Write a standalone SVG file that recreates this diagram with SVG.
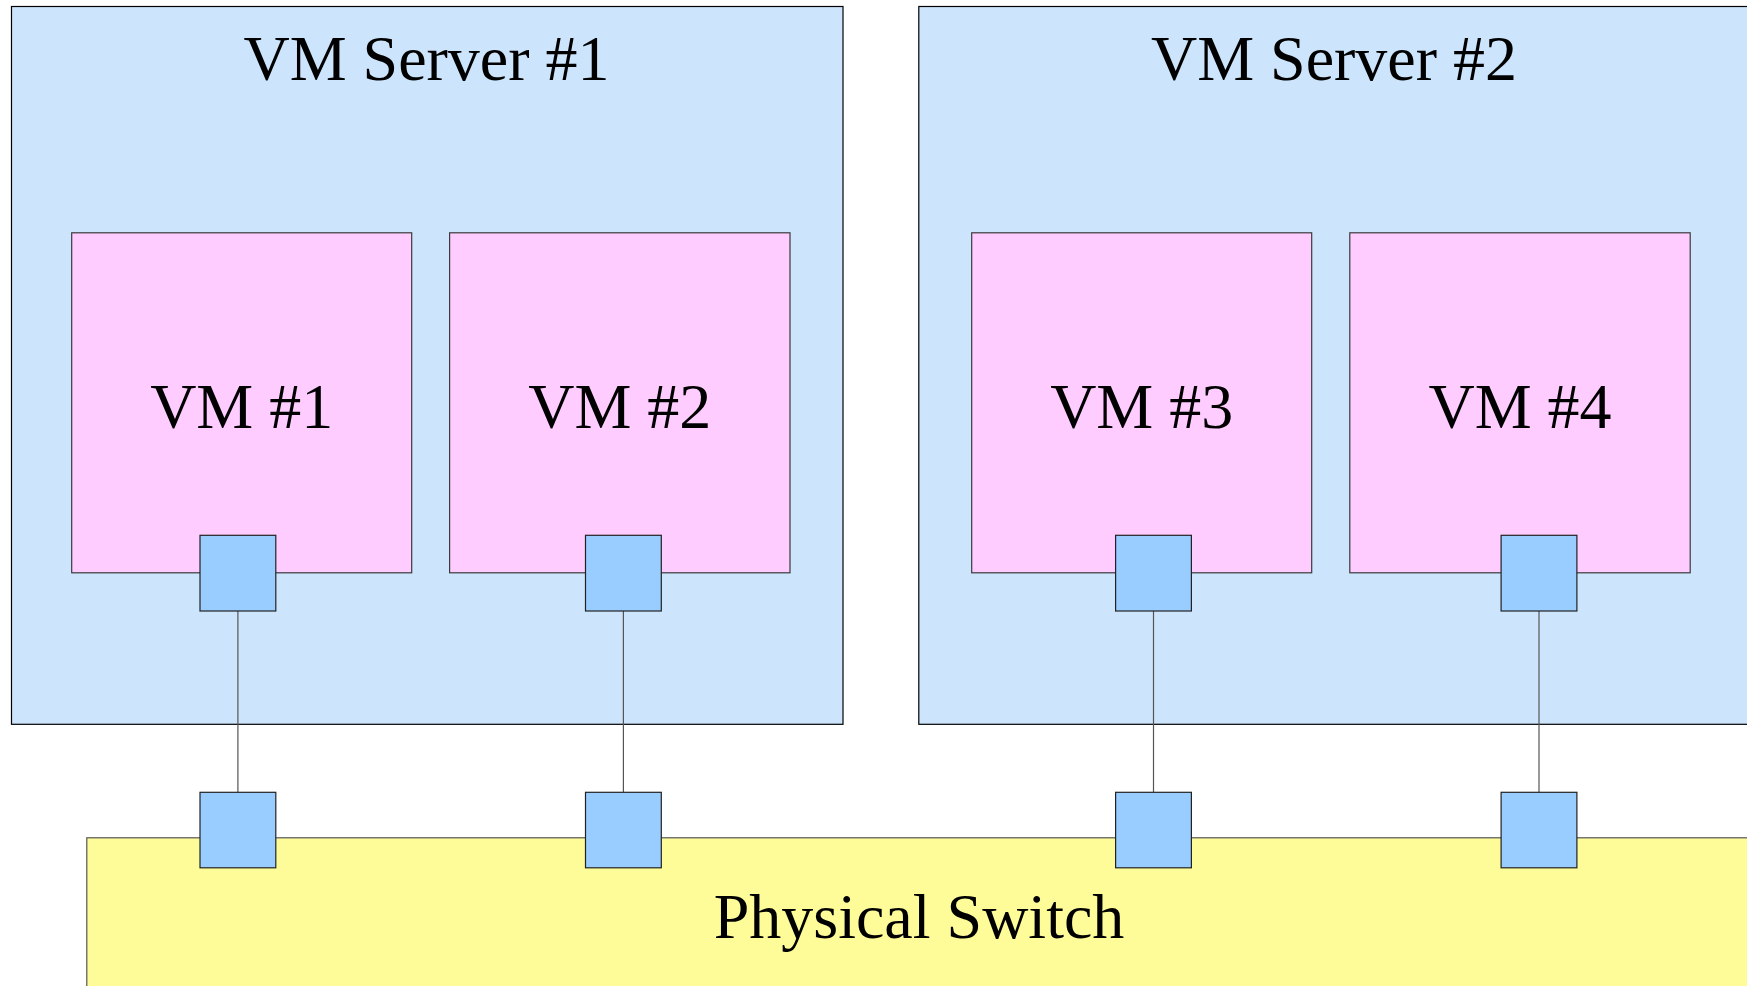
<svg xmlns="http://www.w3.org/2000/svg" width="1747" height="986" viewBox="0 0 1747 986">
<style>
.server{fill:#cce5fc;stroke:#000;stroke-width:1.2}
.vm{fill:#ffccff;stroke:#3a3a3a;stroke-width:1.2}
.switch{fill:#fdfc99;stroke:#555;stroke-width:1.2}
.port{fill:#99ccff;stroke:#222;stroke-width:1.2}
.wire{stroke:#555;stroke-width:1.2;fill:none}
text{font-family:"Liberation Serif","Times New Roman",serif;font-size:64px;fill:#000;text-anchor:middle}
</style>
<rect width="1747" height="986" fill="#fff"/>
<g id="server1">
<rect class="server" x="11.5" y="6.5" width="831.5" height="717.8"/>
<text x="426.5" y="80">VM Server #1</text>
</g>
<g id="server2">
<rect class="server" x="918.8" y="6.5" width="860" height="717.8"/>
<text x="1334" y="80">VM Server #2</text>
</g>
<g id="vm1">
<rect class="vm" x="71.7" y="232.8" width="340" height="340"/>
<text x="241.7" y="428.3">VM #1</text>
</g>
<g id="vm2">
<rect class="vm" x="449.6" y="232.8" width="340.4" height="340"/>
<text x="619.8" y="428.3">VM #2</text>
</g>
<g id="vm3">
<rect class="vm" x="971.7" y="232.8" width="340" height="340"/>
<text x="1141.7" y="428.3">VM #3</text>
</g>
<g id="vm4">
<rect class="vm" x="1349.8" y="232.8" width="340.4" height="340"/>
<text x="1520" y="428.3">VM #4</text>
</g>
<g id="switch">
<rect class="switch" x="86.8" y="837.8" width="1700" height="200"/>
<text x="919" y="938.3">Physical Switch</text>
</g>
<g id="connectors">
<line class="wire" x1="237.9" y1="611" x2="237.9" y2="792.3"/>
<line class="wire" x1="623.4" y1="611" x2="623.4" y2="792.3"/>
<line class="wire" x1="1153.5" y1="611" x2="1153.5" y2="792.3"/>
<line class="wire" x1="1539" y1="611" x2="1539" y2="792.3"/>
</g>
<g id="port-vm1"><rect class="port" x="200" y="535.3" width="75.8" height="75.7"/></g>
<g id="port-vm2"><rect class="port" x="585.5" y="535.3" width="75.8" height="75.7"/></g>
<g id="port-vm3"><rect class="port" x="1115.6" y="535.3" width="75.8" height="75.7"/></g>
<g id="port-vm4"><rect class="port" x="1501.1" y="535.3" width="75.8" height="75.7"/></g>
<g id="port-sw1"><rect class="port" x="200" y="792.3" width="75.8" height="75.5"/></g>
<g id="port-sw2"><rect class="port" x="585.5" y="792.3" width="75.8" height="75.5"/></g>
<g id="port-sw3"><rect class="port" x="1115.6" y="792.3" width="75.8" height="75.5"/></g>
<g id="port-sw4"><rect class="port" x="1501.1" y="792.3" width="75.8" height="75.5"/></g>
</svg>
